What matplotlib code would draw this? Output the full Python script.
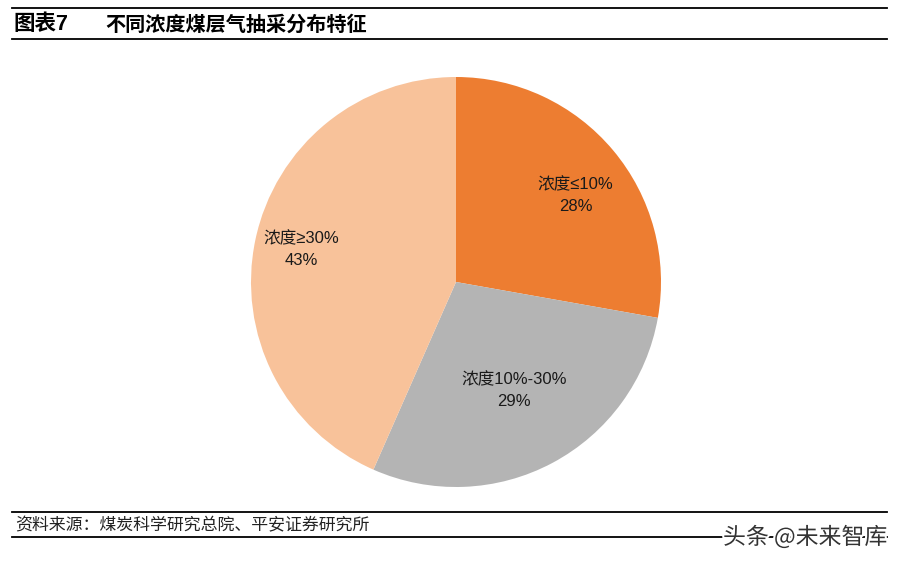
import matplotlib
matplotlib.use("Agg")
import matplotlib.pyplot as plt
import matplotlib.patheffects as pe
from matplotlib.lines import Line2D
import numpy as np

plt.rcParams['font.family'] = ['Liberation Sans', 'Noto Sans CJK SC', 'DejaVu Sans']

# data (shares, labels as printed)
categories = ["浓度≤10%", "浓度10%-30%", "浓度≥30%"]
shares = [27.8, 28.8, 43.4]
pct_labels = ["28%", "29%", "43%"]
colors = ["#ED7D31", "#B4B4B4", "#F8C29A"]
label_dist = [0.72, 0.60, 0.77]
label_turn = [-4, 0, 0]   # degrees nudged from wedge middle

W, H = 902, 561
fig = plt.figure(figsize=(W / 100, H / 100), dpi=100)
fig.patch.set_facecolor("white")

# pie centred at (456, 282) px, radius ~205 px
cx, cy, r = 456, 282, 205
box = 210
ax = fig.add_axes([(cx - box) / W, (H - cy - box) / H, 2 * box / W, 2 * box / H])
wedges, _ = ax.pie(shares, colors=colors, startangle=90, counterclock=False,
                   wedgeprops=dict(linewidth=0))
lim = box / r
ax.set_xlim(-lim, lim)
ax.set_ylim(-lim, lim)
ax.axis("off")

for w, cat, pct, d, t in zip(wedges, categories, pct_labels, label_dist, label_turn):
    ang = np.deg2rad((w.theta1 + w.theta2) / 2 + t)
    x, y = d * np.cos(ang), d * np.sin(ang)
    ax.text(x, y, cat + "\n" + pct, ha="center", va="center", fontsize=12,
            color="#1a1a1a", linespacing=1.6)

# title and rules
def hline(y, x0=12, x1=887, lw=1.3):
    fig.add_artist(Line2D([x0 / W, x1 / W], [1 - y / H, 1 - y / H], color="black", lw=lw))

hline(8)
hline(39)
hline(512)
hline(537)

fig.text(13 / W, 1 - 24 / H, "图表7", fontsize=15.5, fontweight="bold", va="center",
         family=['Liberation Sans', 'Noto Sans CJK SC'])
fig.text(105 / W, 1 - 24 / H, "不同浓度煤层气抽采分布特征", fontsize=14.5, fontweight="bold", va="center",
         family=['Noto Sans CJK SC'])

fig.text(15 / W, 1 - 525 / H, "资料来源：煤炭科学研究总院、平安证券研究所", fontsize=12.2, style="italic",
         va="center", color="#222222", family=['Noto Sans CJK SC'])

fig.text(887 / W, 1 - 537 / H, "头条 @未来智库", fontsize=16.5, ha="right", va="center", color="#333333",
         family=['Noto Sans CJK SC'],
         path_effects=[pe.withStroke(linewidth=3, foreground="white")])

fig.savefig("out.png", dpi=100, facecolor="white")
